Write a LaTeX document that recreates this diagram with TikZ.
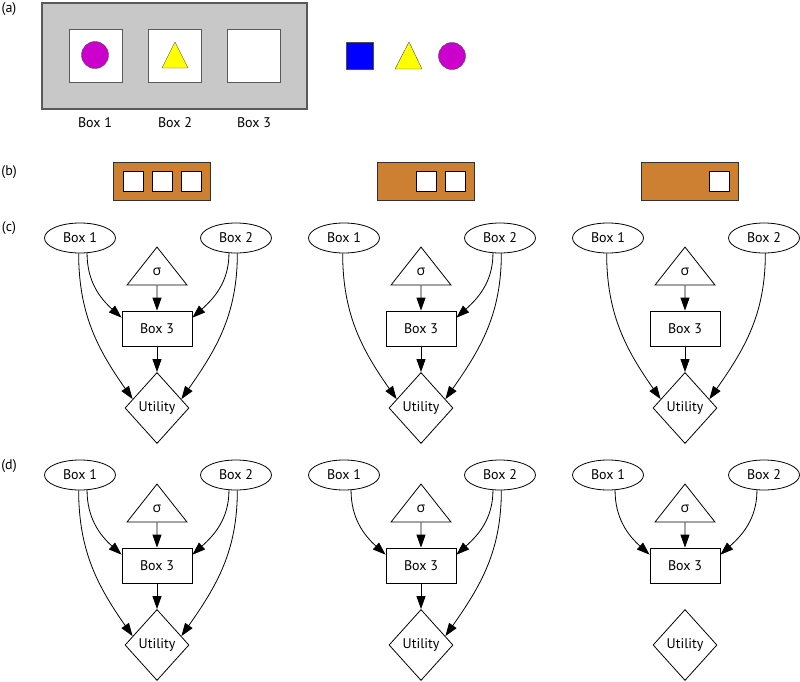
\documentclass[tikz,border=0pt]{standalone}
\usepackage{fontspec}
\setmainfont{PT Sans}
\newfontfamily\grk{Open Sans}
\usetikzlibrary{shapes.geometric,arrows.meta,positioning}

\definecolor{boxgray}{RGB}{200,200,200}
\definecolor{rimgray}{RGB}{90,90,90}
\definecolor{plum}{RGB}{204,0,204}
\definecolor{lemon}{RGB}{255,255,0}
\definecolor{copper}{RGB}{205,127,50}

\tikzset{
  lbl/.style={font=\fontsize{14}{16}\selectfont, inner sep=0pt},
  ell/.style={draw, ellipse, minimum width=71pt, minimum height=30pt, inner sep=0pt, line width=0.8pt, font=\fontsize{14}{16}\selectfont},
  rbox/.style={draw, rectangle, minimum width=70pt, minimum height=35pt, inner sep=0pt, line width=0.8pt, font=\fontsize{14}{16}\selectfont},
  util/.style={draw, diamond, aspect=0.9, minimum width=64pt, minimum height=71pt, inner sep=0pt, line width=0.8pt, font=\fontsize{14}{16}\selectfont},
  sigtri/.style={draw, isosceles triangle, shape border rotate=90, isosceles triangle stretches, minimum width=60pt, minimum height=38pt, inner sep=0pt, line width=0.8pt, font=\fontsize{14}{16}\selectfont\grk},
  arr/.style={-{Triangle[length=13pt,width=9pt]}, line width=0.8pt},
  slot/.style={draw=black, fill=white, line width=1pt}
}

\begin{document}
\begin{tikzpicture}[x=1pt,y=-1pt]
\useasboundingbox (0,0) rectangle (800,681);

% (a)
\node[lbl] (la) at (9,9) {(a)};
\draw[fill=boxgray, draw=rimgray, line width=1.2pt] (42,3) rectangle (307,109);
\foreach \bx in {69,148,227}
  \draw[fill=white, draw=rimgray, line width=1pt] (\bx,29) rectangle ++(53,53);
\fill[plum, draw=black!70] (95,55) circle (13.5);
\filldraw[fill=lemon, draw=black!70] (175,42) -- (188,68) -- (162,68) -- cycle;
\node[lbl] (ab1) at (95,123) {Box 1};
\node[lbl] (ab2) at (175,123) {Box 2};
\node[lbl] (ab3) at (254,123) {Box 3};
\filldraw[fill=blue, draw=black!70] (346,42) rectangle (373,69);
\filldraw[fill=lemon, draw=black!70] (409,42) -- (422,69) -- (395,69) -- cycle;
\filldraw[fill=plum, draw=black!70] (452,56) circle (13.5);

% (b)
\node[lbl] (lb) at (9,172) {(b)};
\foreach \ox/\first in {113/1,377/2,641/3} {
  \draw[fill=copper, draw=black!80, line width=0.8pt] (\ox,162) rectangle ++(97,38);
  \foreach \k in {\first,...,3}
    \draw[slot] (\ox+10+29*\k-29,171) rectangle ++(20,20);
}

% (c) and (d)
\node[lbl] (lc) at (9,228) {(c)};
\node[lbl] (ld) at (9,466) {(d)};
\foreach \p/\x/\y in {c1/157/238,c2/421/238,c3/685/238,d1/157/475,d2/421/475,d3/685/475} {
  \node[ell] (\p b1) at (\x-77,\y) {Box 1};
  \node[ell] (\p b2) at (\x+79,\y) {Box 2};
  \node[sigtri, anchor=apex] (\p s) at (\x,\y+8) {σ};
  \node[rbox] (\p b3) at (\x,\y+90.5) {Box 3};
  \node[util] (\p u) at (\x,\y+170) {Utility};
}

\foreach \p in {c1,c2,c3,d1,d2,d3}
  \draw[arr] (\p s) -- (\p b3);
\foreach \p in {c1,c2,c3,d1,d2}
  \draw[arr] (\p b3) -- (\p u);
\foreach \p in {c1,d1,d2,d3}
  \draw[arr] (\p b1.-65) to[out=-90,in=138] (\p b3.163);
\foreach \p in {c1,c2,d1,d2,d3}
  \draw[arr] (\p b2.-115) to[out=-90,in=42] (\p b3.17);
\foreach \p in {c1,c2,c3,d1}
  \draw[arr] (\p b1.-95) to[out=-90,in=125] (\p u.160);
\foreach \p in {c1,c2,c3,d1,d2}
  \draw[arr] (\p b2.-85) to[out=-90,in=55] (\p u.20);
\end{tikzpicture}
\end{document}
